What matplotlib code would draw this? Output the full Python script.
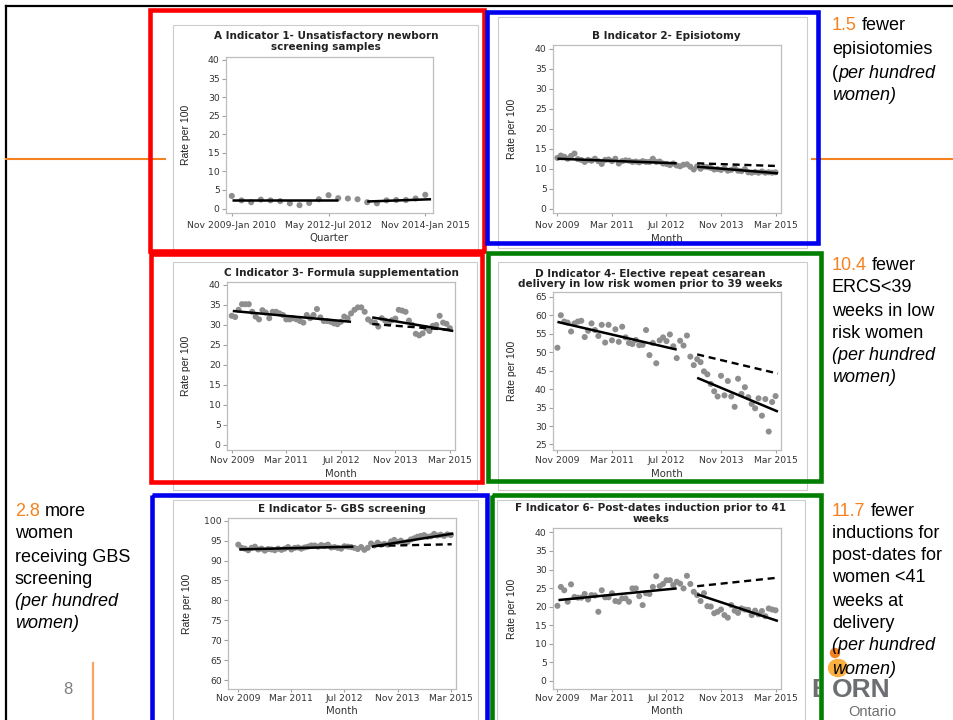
import matplotlib
matplotlib.use('Agg')
import matplotlib.pyplot as plt
from matplotlib.patches import Rectangle, Circle, Ellipse
import numpy as np

# --- Data ---
W, H = 954, 720

quarters = np.arange(21)
months = np.arange(65)

quarter_ticks = [0, 10, 20]
quarter_labels = ['Nov 2009-Jan 2010', 'May 2012-Jul 2012', 'Nov 2014-Jan 2015']
month_ticks = [0, 16, 32, 48, 64]
month_labels = ['Nov 2009', 'Mar 2011', 'Jul 2012', 'Nov 2013', 'Mar 2015']

a_rate = [3.4, 2.2, 1.7, 2.4, 2.2, 2.0, 1.4, 0.9, 1.5, 2.5, 3.6,
          2.8, 2.7, 2.5, 1.7, 1.4, 2.2, 2.3, 2.3, 2.7, 3.7]

b_rate = [12.7, 13.3, 13.0, 12.5, 13.2, 13.8, 12.4, 12.2, 11.7, 12.2,
          12.0, 12.5, 11.9, 11.2, 12.2, 12.3, 11.9, 12.5, 11.3, 11.9,
          12.1, 12.0, 11.7, 11.8, 11.6, 11.9, 11.7, 11.7, 12.5, 11.7,
          11.8, 11.3, 11.2, 10.9, 11.3, 10.8, 10.6, 11.0, 11.1, 10.5,
          9.8, 10.6, 10.0, 10.5, 10.4, 10.2, 9.8, 9.9, 9.7, 10.1,
          9.5, 9.7, 10.2, 9.5, 9.4, 9.9, 9.1, 9.0, 9.2, 9.0,
          9.3, 9.0, 9.1, 9.0, 9.1]

c_rate = [32.3, 32.0, 33.8, 35.2, 35.2, 35.2, 33.3, 32.1, 31.4, 33.7,
          33.1, 31.7, 33.3, 33.3, 32.9, 32.5, 31.4, 31.4, 31.7, 31.4,
          31.0, 30.6, 32.5, 31.7, 32.5, 34.0, 31.9, 31.0, 31.0, 30.8,
          30.4, 30.2, 30.8, 32.1, 31.7, 32.9, 33.8, 34.4, 34.4, 33.3,
          31.4, 30.8, 30.6, 29.6, 31.7, 31.1, 30.4, 31.2, 31.6, 33.8,
          33.6, 33.3, 31.1, 30.0, 27.8, 27.4, 27.9, 29.2, 28.5, 29.8,
          30.0, 32.3, 30.6, 30.3, 29.2]

d_rate = [51.2, 60.0, 58.3, 58.0, 55.6, 57.8, 58.3, 58.5, 54.1, 55.8,
          57.8, 56.0, 54.4, 57.4, 52.6, 57.4, 53.2, 56.2, 52.8, 56.9,
          54.0, 52.5, 52.2, 53.3, 51.9, 52.0, 56.0, 49.2, 52.5, 47.0,
          53.2, 54.0, 53.0, 54.8, 51.6, 48.4, 53.1, 51.8, 54.5, 48.8,
          46.5, 48.1, 47.3, 44.8, 44.0, 41.4, 39.4, 38.0, 43.6, 38.3,
          42.2, 38.0, 35.2, 42.8, 38.7, 40.5, 37.8, 36.0, 34.8, 37.5,
          32.8, 37.3, 28.5, 36.5, 38.1]

e_rate = [94.0, 93.2, 93.0, 92.6, 93.2, 93.5, 92.8, 93.0, 92.5, 92.9,
          92.8, 92.6, 93.0, 92.7, 93.0, 93.4, 92.8, 93.2, 93.3, 93.0,
          93.3, 93.5, 93.8, 93.8, 93.5, 93.9, 93.7, 94.0, 93.3, 93.4,
          93.2, 93.0, 93.6, 93.5, 93.4, 93.2, 92.9, 93.4, 92.7, 93.2,
          94.3, 93.8, 94.5, 94.0, 94.2, 94.0, 94.8, 95.2, 94.7, 95.0,
          94.5, 94.7, 95.3, 95.6, 96.0, 96.2, 96.4, 96.0, 96.1, 96.7,
          96.3, 96.5, 96.2, 96.6, 96.4]

f_rate = [20.2, 25.3, 24.4, 21.3, 26.0, 22.6, 22.4, 22.4, 23.4, 21.9,
          23.1, 23.0, 18.6, 24.4, 22.5, 22.5, 23.6, 21.5, 21.3, 22.2,
          22.2, 21.3, 24.9, 24.9, 22.8, 20.4, 23.6, 23.4, 25.3, 28.2,
          25.5, 26.1, 27.1, 27.1, 25.8, 26.7, 26.2, 24.9, 28.3, 26.1,
          24.0, 23.1, 21.5, 23.6, 20.1, 20.0, 18.2, 18.6, 19.2, 17.7,
          17.0, 20.4, 18.9, 18.3, 19.5, 19.2, 19.1, 17.7, 18.9, 17.9,
          18.8, 17.4, 19.5, 19.2, 19.0]

# fitted segments: (x start, x end), (rate start, rate end)
a_pre = ([0, 11], [2.2, 2.2])
a_post = ([14, 20.6], [1.9, 2.5])
b_pre = ([0, 35], [12.5, 11.35])
b_post = ([41, 64.7], [10.5, 8.85])
b_cf = ([41, 63.8], [11.35, 10.7])
c_pre = ([0.3, 35], [33.5, 30.8])
c_post = ([41.2, 65], [31.9, 28.5])
c_cf = ([41.2, 64.5], [30.25, 28.75])
d_pre = ([0, 35], [58.2, 50.7])
d_post = ([41, 64.7], [43.05, 33.9])
d_cf = ([41, 64.7], [49.4, 44.2])
e_pre = ([0.3, 34.7], [92.8, 93.5])
e_post = ([40.2, 64.8], [93.5, 96.8])
e_cf = ([41.7, 64.3], [93.7, 94.1])
f_pre = ([0.3, 35], [21.75, 24.9])
f_post = ([41, 64.7], [23.3, 16.1])
f_cf = ([41, 64.7], [25.5, 27.8])

ORANGE = '#f58220'
PT_GREY = '#8e8e8e'

fig = plt.figure(figsize=(W / 100, H / 100), dpi=100)

# background layer in pixel coordinates
bg = fig.add_axes([0, 0, 1, 1], zorder=0)
bg.set_xlim(0, W)
bg.set_ylim(H, 0)
bg.axis('off')

# overlay layer for the coloured frames
top = fig.add_axes([0, 0, 1, 1], zorder=5)
top.set_xlim(0, W)
top.set_ylim(H, 0)
top.axis('off')


def frac(x0, y0, x1, y1):
    return [x0 / W, 1 - y1 / H, (x1 - x0) / W, (y1 - y0) / H]


# slide decorations
bg.plot([6, W], [6, 6], color='black', lw=1.6)
bg.plot([6, 6], [6, H], color='black', lw=1.6)
bg.plot([6, 165], [158.5, 158.5], color=ORANGE, lw=1.5)
bg.plot([812, W], [158.5, 158.5], color=ORANGE, lw=1.5)
bg.plot([93, 93], [663, 720], color='#f9a65a', lw=1.6)
bg.text(68, 689, '8', fontsize=12, color='#7f7f7f', ha='center', va='center',
        family='Liberation Sans')

# chart image boxes
boxes = [(173, 25, 478, 252), (498, 17, 807, 248), (173, 262, 477, 490),
         (498, 262, 807, 490), (173, 500, 478, 725), (497, 500, 805, 725)]
for x0, y0, x1, y1 in boxes:
    bg.add_patch(Rectangle((x0, y0), x1 - x0, y1 - y0, facecolor='white',
                           edgecolor='#cccccc', lw=0.8))

panels = [
    dict(rect=(226, 57, 433, 213), x=quarters, y=a_rate, xlim=(-0.6, 20.8), ylim=(-1.2, 40.8),
         yticks=range(0, 41, 5), xticks=quarter_ticks, xlabels=quarter_labels, xpad=3,
         title=[('A Indicator 1- Unsatisfactory newborn', 326, 36), ('screening samples', 326, 47)],
         ylab_x=186, xlab=('Quarter', 329, 238), lines=[a_pre, a_post], cf=None),
    dict(rect=(553, 45, 781, 213), x=months, y=b_rate, xlim=(-1.3, 65.6), ylim=(-1.1, 41),
         yticks=range(0, 41, 5), xticks=month_ticks, xlabels=month_labels, xpad=3,
         title=[('B Indicator 2- Episiotomy', 666, 36)],
         ylab_x=512, xlab=('Month', 667, 239), lines=[b_pre, b_post], cf=b_cf),
    dict(rect=(227, 282, 455, 450), x=months, y=c_rate, xlim=(-1.4, 65.5), ylim=(-1.25, 40.75),
         yticks=range(0, 41, 5), xticks=month_ticks, xlabels=month_labels, xpad=2,
         title=[('C Indicator 3- Formula supplementation', 341, 273)],
         ylab_x=186, xlab=('Month', 341, 474), lines=[c_pre, c_post], cf=c_cf),
    dict(rect=(553, 292, 781, 450), x=months, y=d_rate, xlim=(-1.3, 65.6), ylim=(23.5, 66.3),
         yticks=range(25, 66, 5), xticks=month_ticks, xlabels=month_labels, xpad=2,
         title=[('D Indicator 4- Elective repeat cesarean', 650, 274),
                ('delivery in low risk women prior to 39 weeks', 650, 284)],
         ylab_x=512, xlab=('Month', 667, 474), lines=[d_pre, d_post], cf=d_cf),
    dict(rect=(228, 518, 456, 689), x=months, y=e_rate, xlim=(-3.1, 65.6), ylim=(57.74, 100.7),
         yticks=range(60, 101, 5), xticks=month_ticks, xlabels=month_labels, xpad=0.8,
         title=[('E Indicator 5- GBS screening', 342, 509)],
         ylab_x=187, xlab=('Month', 342, 711), lines=[e_pre, e_post], cf=e_cf),
    dict(rect=(553, 528, 781, 689), x=months, y=f_rate, xlim=(-1.3, 65.6), ylim=(-2.24, 41.2),
         yticks=range(0, 41, 5), xticks=month_ticks, xlabels=month_labels, xpad=0.8,
         title=[('F Indicator 6- Post-dates induction prior to 41', 651, 508), ('weeks', 651, 519)],
         ylab_x=512, xlab=('Month', 667, 711), lines=[f_pre, f_post], cf=f_cf),
]

for p in panels:
    ax = fig.add_axes(frac(*p['rect']), zorder=2)
    ax.scatter(p['x'], p['y'], s=19, color=PT_GREY, edgecolors='none', zorder=2)
    if p['cf'] is not None:
        ax.plot(p['cf'][0], p['cf'][1], color='black', lw=1.7, linestyle=(0, (3, 2)), zorder=3)
    for seg in p['lines']:
        ax.plot(seg[0], seg[1], color='black', lw=1.8, solid_capstyle='butt', zorder=4)
    ax.set_xlim(*p['xlim'])
    ax.set_ylim(*p['ylim'])
    ax.set_yticks(list(p['yticks']))
    ax.set_xticks(p['xticks'])
    ax.set_xticklabels(p['xlabels'])
    ax.tick_params(direction='out', length=3, width=0.8, color='#a0a0a0',
                   labelsize=6.7, labelcolor='#333333', pad=1.5)
    ax.tick_params(axis='x', length=2.5, pad=p['xpad'])
    for sp in ax.spines.values():
        sp.set_color('#bdbdbd')
        sp.set_linewidth(0.9)
    for txt, tx, ty in p['title']:
        bg.text(tx, ty, txt, fontsize=7.5, fontweight='bold', color='#222222',
                ha='center', va='center')
    x0, y0, x1, y1 = p['rect']
    bg.text(p['ylab_x'], (y0 + y1) / 2, 'Rate per 100', rotation=90, fontsize=7.5,
            color='#222222', ha='center', va='center',
            family=['Liberation Sans Narrow', 'Liberation Sans'])
    lab, lx, ly = p['xlab']
    bg.text(lx, ly, lab, fontsize=7.3, color='#333333', ha='center', va='center')

# coloured frames
frames = [((150, 10, 484, 251), '#ff0000'), ((487, 12, 818, 243), '#0000ee'),
          ((151, 254, 482, 482), '#ff0000'), ((488, 253, 821, 481), '#007f00'),
          ((152, 495, 487, 724), '#0000ee'), ((492, 495, 821, 724), '#007f00')]
for (x0, y0, x1, y1), col in frames:
    top.add_patch(Rectangle((x0, y0), x1 - x0, y1 - y0, fill=False, edgecolor=col, lw=3.3))

# logo
bg.add_patch(Ellipse((838, 668), 19, 17, color='#fbb040', zorder=1))
bg.add_patch(Circle((835, 653), 4.5, color=ORANGE, zorder=1))
bclip = Rectangle((800, 670), 19, 40, transform=bg.transData)
bt = bg.text(811, 697, 'B', fontsize=19, fontweight='bold', color='#6d6e71',
             ha='left', va='baseline', family='Liberation Sans', clip_on=True)
bt.set_clip_path(bclip)
bg.text(832, 697, 'ORN', fontsize=19, fontweight='bold', color='#6d6e71',
        ha='left', va='baseline', family='Liberation Sans', zorder=3)
bg.text(848, 716, 'Ontario', fontsize=10.5, color='#6d6e71', ha='left', va='baseline',
        family='Liberation Sans', zorder=3)

# side notes with mixed styles
renderer = fig.canvas.get_renderer()


def width_of(s, style):
    t = bg.text(0, 0, s, fontsize=13, style=style, family='Liberation Sans')
    w = t.get_window_extent(renderer=renderer).width
    t.remove()
    return w


space_w = width_of('x x', 'normal') - width_of('xx', 'normal')


def rich_line(x, y, parts):
    for s, col, style in parts:
        if s == ' ':
            x += space_w
            continue
        t = bg.text(x, y, s, fontsize=13, color=col, style=style, ha='left', va='center',
                    family='Liberation Sans', zorder=4)
        x += t.get_window_extent(renderer=renderer).width


def note(x, ys, lines):
    for y, parts in zip(ys, lines):
        rich_line(x, y, parts)


K = 'black'
note(832, [25, 50, 73, 95], [
    [('1.5', ORANGE, 'normal'), (' ', K, 'normal'), ('fewer', K, 'normal')],
    [('episiotomies', K, 'normal')],
    [('(', K, 'normal'), ('per hundred', K, 'italic')],
    [('women)', K, 'italic')]])
note(832, [266, 288, 311, 333, 355, 377], [
    [('10.4', ORANGE, 'normal'), (' ', K, 'normal'), ('fewer', K, 'normal')],
    [('ERCS<39', K, 'normal')],
    [('weeks in low', K, 'normal')],
    [('risk women', K, 'normal')],
    [('(per hundred', K, 'italic')],
    [('women)', K, 'italic')]])
note(832, [511, 533, 556, 578, 601, 624, 646, 669], [
    [('11.7', ORANGE, 'normal'), (' ', K, 'normal'), ('fewer', K, 'normal')],
    [('inductions for', K, 'normal')],
    [('post-dates for', K, 'normal')],
    [('women <41', K, 'normal')],
    [('weeks at', K, 'normal')],
    [('delivery', K, 'normal')],
    [('(per hundred', K, 'italic')],
    [('women)', K, 'italic')]])
note(15, [511, 534, 557, 580, 601, 624], [
    [('2.8', ORANGE, 'normal'), (' ', K, 'normal'), ('more', K, 'normal')],
    [('women', K, 'normal')],
    [('receiving GBS', K, 'normal')],
    [('screening', K, 'normal')],
    [('(per hundred', K, 'italic')],
    [('women)', K, 'italic')]])

fig.savefig('out.png', dpi=100)
